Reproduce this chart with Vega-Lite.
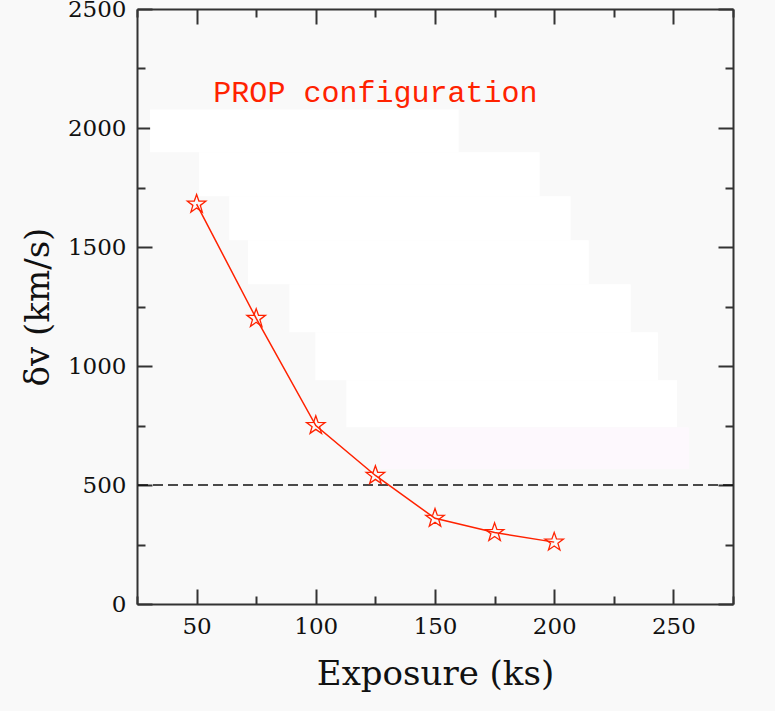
{
  "$schema": "https://vega.github.io/schema/vega-lite/v6.json",
  "width": 596,
  "height": 595,
  "autosize": {"type": "none"},
  "padding": {"left": 137, "top": 9, "right": 42, "bottom": 107},
  "background": "#f9f9f9",
  "config": {
    "view": {"stroke": null},
    "axis": {
      "grid": false,
      "domainColor": "#333333",
      "domainWidth": 2,
      "tickColor": "#333333",
      "tickWidth": 2,
      "labelFont": "DejaVu Serif",
      "labelFontSize": 23,
      "labelColor": "#111111",
      "titleFont": "DejaVu Serif",
      "titleFontSize": 34,
      "titleFontWeight": "normal",
      "titleColor": "#111111",
      "labelOverlap": false,
      "labelFlush": false,
      "format": "d"
    }
  },
  "datasets": {
    "patches": [
      {"x1": 30.5, "x2": 159.9, "y1": 1898, "y2": 2078, "kind": "white"},
      {"x1": 51, "x2": 193.9, "y1": 1713, "y2": 1898, "kind": "white"},
      {"x1": 63.7, "x2": 206.9, "y1": 1528, "y2": 1713, "kind": "white"},
      {"x1": 71.6, "x2": 214.5, "y1": 1343, "y2": 1528, "kind": "white"},
      {"x1": 88.9, "x2": 232.1, "y1": 1142, "y2": 1343, "kind": "white"},
      {"x1": 99.8, "x2": 243.5, "y1": 940, "y2": 1142, "kind": "white"},
      {"x1": 112.8, "x2": 251.5, "y1": 743, "y2": 940, "kind": "white"},
      {"x1": 127.1, "x2": 256.5, "y1": 567, "y2": 743, "kind": "pink"}
    ],
    "prop": [
      {"exposure": 50, "dv": 1680},
      {"exposure": 75, "dv": 1200},
      {"exposure": 100, "dv": 750},
      {"exposure": 125, "dv": 540},
      {"exposure": 150, "dv": 360},
      {"exposure": 175, "dv": 300},
      {"exposure": 200, "dv": 260}
    ],
    "threshold": [{"dv": 500}],
    "label": [{"exposure": 125, "dv": 2110, "text": "PROP configuration"}]
  },
  "layer": [
    {
      "data": {"name": "patches"},
      "mark": {"type": "rect", "strokeWidth": 0},
      "encoding": {
        "x": {
          "field": "x1", "type": "quantitative",
          "scale": {"domain": [25, 275], "nice": false, "zero": false},
          "axis": {
            "orient": "bottom",
            "title": "Exposure (ks)",
            "values": [25, 50, 75, 100, 125, 150, 175, 200, 225, 250, 275],
            "labelExpr": "datum.value % 50 === 0 ? datum.label : ''",
            "tickSize": {"condition": {"test": "datum.value % 50 === 0", "value": -15}, "value": -8},
            "labelPadding": 26,
            "titlePadding": 12
          }
        },
        "x2": {"field": "x2"},
        "y": {
          "field": "y1", "type": "quantitative",
          "scale": {"domain": [0, 2500], "nice": false, "zero": false},
          "axis": {
            "orient": "left",
            "title": "δv (km/s)",
            "values": [0, 250, 500, 750, 1000, 1250, 1500, 1750, 2000, 2250, 2500],
            "labelExpr": "datum.value % 500 === 0 ? datum.label : ''",
            "tickSize": {"condition": {"test": "datum.value % 500 === 0", "value": -15}, "value": -8},
            "labelPadding": 26,
            "titlePadding": 12
          }
        },
        "y2": {"field": "y2"},
        "color": {
          "field": "kind", "type": "nominal",
          "scale": {"domain": ["white", "pink"], "range": ["#ffffff", "#fdf8fd"]},
          "legend": null
        }
      }
    },
    {
      "data": {"name": "threshold"},
      "mark": {"type": "rule", "color": "#111111", "strokeWidth": 1.5, "strokeDash": [10, 5]},
      "encoding": {
        "y": {"field": "dv", "type": "quantitative", "axis": null}
      }
    },
    {
      "data": {"name": "prop"},
      "mark": {"type": "line", "color": "#ff2200", "strokeWidth": 1.5},
      "encoding": {
        "x": {
          "field": "exposure", "type": "quantitative",
          "axis": {
            "orient": "top",
            "title": null,
            "labels": false,
            "values": [25, 50, 75, 100, 125, 150, 175, 200, 225, 250, 275],
            "tickSize": {"condition": {"test": "datum.value % 50 === 0", "value": -15}, "value": -8}
          }
        },
        "y": {
          "field": "dv", "type": "quantitative",
          "axis": {
            "orient": "right",
            "title": null,
            "labels": false,
            "values": [0, 250, 500, 750, 1000, 1250, 1500, 1750, 2000, 2250, 2500],
            "tickSize": {"condition": {"test": "datum.value % 500 === 0", "value": -15}, "value": -8}
          }
        }
      }
    },
    {
      "data": {"name": "prop"},
      "mark": {
        "type": "point",
        "shape": "M0,-1L0.235,-0.324L0.951,-0.309L0.38,0.124L0.588,0.809L0,0.4L-0.588,0.809L-0.38,0.124L-0.951,-0.309L-0.235,-0.324Z",
        "filled": false,
        "color": "#ff2200",
        "strokeWidth": 1.3,
        "size": 380,
        "opacity": 1
      },
      "encoding": {
        "x": {"field": "exposure", "type": "quantitative", "axis": null},
        "y": {"field": "dv", "type": "quantitative", "axis": null}
      }
    },
    {
      "data": {"name": "label"},
      "mark": {"type": "text", "font": "Liberation Mono", "fontSize": 30, "color": "#ff2200", "align": "center", "baseline": "alphabetic"},
      "encoding": {
        "x": {"field": "exposure", "type": "quantitative", "axis": null},
        "y": {"field": "dv", "type": "quantitative", "axis": null},
        "text": {"field": "text"}
      }
    }
  ],
  "resolve": {"axis": {"x": "independent", "y": "independent"}}
}
